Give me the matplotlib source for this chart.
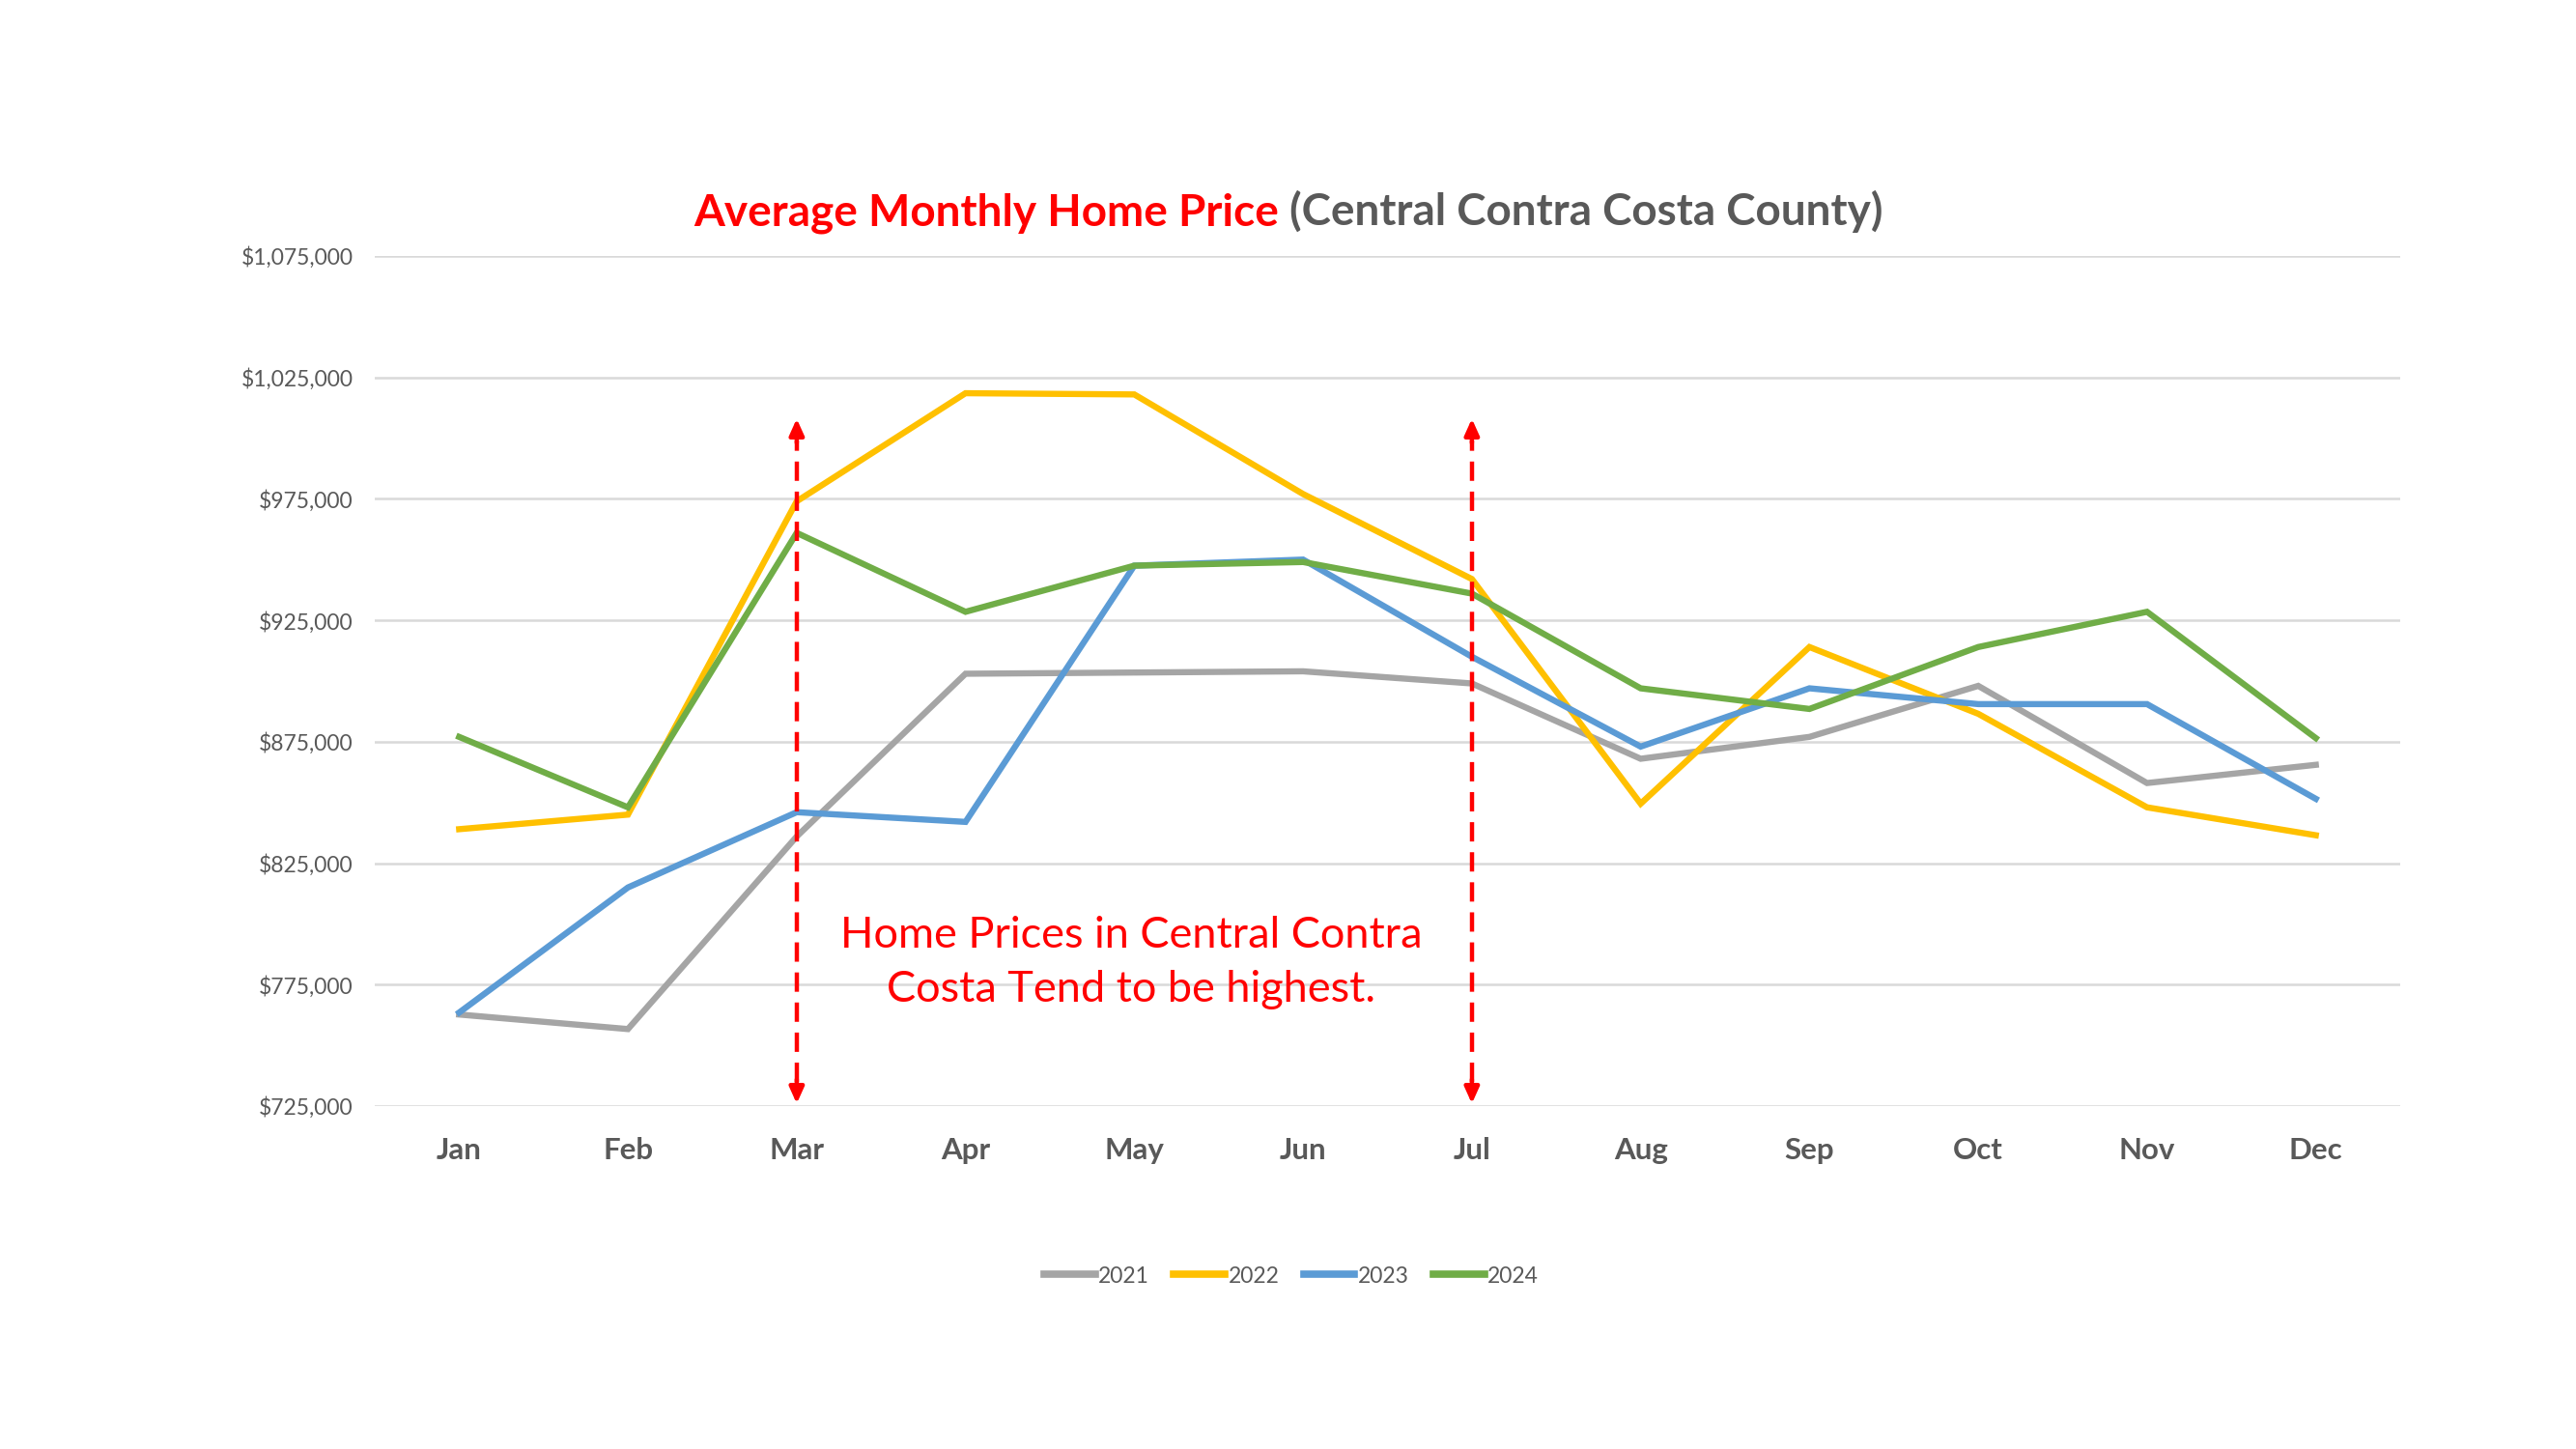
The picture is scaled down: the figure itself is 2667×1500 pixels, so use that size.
import matplotlib
matplotlib.use("Agg")
import matplotlib.pyplot as plt
from matplotlib.ticker import FuncFormatter, FixedLocator

months = ["Jan", "Feb", "Mar", "Apr", "May", "Jun", "Jul", "Aug", "Sep", "Oct", "Nov", "Dec"]
series_names = ["2021", "2022", "2023", "2024"]
prices_2021 = [762700, 756700, 836000, 903000, 903500, 904000, 899000, 868000, 877000, 898000, 858000, 865500]
prices_2022 = [839000, 845000, 974000, 1018500, 1018000, 977000, 942000, 849500, 914000, 886500, 848000, 836500]
prices_2023 = [763500, 815000, 846000, 842000, 947500, 950000, 910000, 873000, 897000, 890500, 890500, 851500]
prices_2024 = [877000, 848000, 961000, 928500, 947500, 949000, 936000, 897000, 888500, 914000, 928500, 876500]
colors = ["#A5A5A5", "#FFC000", "#5B9BD5", "#70AD47"]

y_min, y_max, y_step = 725000, 1075000, 50000
arrow_months = ["Mar", "Jul"]
arrow_low, arrow_high = 726000, 1008000
note_text = "Home Prices in Central Contra\nCosta Tend to be highest."
title_red = "Average Monthly Home Price"
title_gray = " (Central Contra Costa County)"

FONT = ["Lato", "DejaVu Sans"]
plt.rcParams["font.family"] = FONT
GRAY_TXT = "#595959"

W, H = 2667, 1500
fig = plt.figure(figsize=(W / 100, H / 100), dpi=100)
ax = fig.add_axes([388 / W, 1 - 1145 / H, (2485 - 388) / W, (1145 - 265) / H])

x = list(range(len(months)))
all_series = [prices_2021, prices_2022, prices_2023, prices_2024]
for name, vals, c in zip(series_names, all_series, colors):
    ax.plot(x, vals, color=c, lw=4.6, label=name, solid_joinstyle="miter", zorder=3)

ax.set_xlim(-0.5, len(months) - 0.5)
ax.set_ylim(y_min, y_max)
ax.yaxis.set_major_locator(FixedLocator(list(range(y_min, y_max + 1, y_step))))
ax.yaxis.set_major_formatter(FuncFormatter(lambda v, p: f"${v:,.0f}"))
ax.set_xticks(x)
ax.set_xticklabels(months, fontsize=22.5, fontweight="bold", color=GRAY_TXT)
ax.tick_params(axis="x", length=0, pad=23)
ax.tick_params(axis="y", length=0, pad=16, labelsize=16.5, labelcolor=GRAY_TXT)
ax.grid(axis="y", color="#D9D9D9", lw=1.8, zorder=0)
ax.set_axisbelow(True)
for s in ax.spines.values():
    s.set_visible(False)

# arrows
for m in arrow_months:
    xi = months.index(m)
    ax.vlines(xi, arrow_low + 9000, arrow_high - 9000, colors="#FF0000", lw=3.2,
              linestyles=(0, (4.5, 2.5)), zorder=4)
    for y_tip, y_tail in [(arrow_high, arrow_high - 10000), (arrow_low, arrow_low + 10000)]:
        ax.annotate("", xy=(xi, y_tip), xytext=(xi, y_tail),
                    arrowprops=dict(arrowstyle="-|>,head_length=1.0,head_width=0.45",
                                    color="#FF0000", lw=3.2, shrinkA=0, shrinkB=0),
                    zorder=5)

ax.text(3.98, 784000, note_text, color="#FF0000", fontsize=32.5, ha="center", va="center",
        linespacing=1.45, zorder=6)

leg = fig.legend(loc="center", bbox_to_anchor=(1337 / W, 1 - 1321 / H), ncol=4, frameon=False,
                 fontsize=16.5, handlelength=2.3, handletextpad=0.15, columnspacing=1.1)
for t in leg.get_texts():
    t.set_color(GRAY_TXT)
for h in leg.legend_handles:
    h.set_linewidth(5.5)

# title in two colours
t1 = fig.text(0, 1 - 233 / H, title_red, color="#FF0000", fontsize=33, fontweight="bold",
              ha="left", va="baseline")
t2 = fig.text(0, 1 - 233 / H, title_gray, color=GRAY_TXT, fontsize=33, fontweight="bold",
              ha="left", va="baseline")
fig.canvas.draw()
r = fig.canvas.get_renderer()
w1 = t1.get_window_extent(r).width
w2 = t2.get_window_extent(r).width
x0 = 1334 - (w1 + w2) / 2
t1.set_x(x0 / W)
t2.set_x((x0 + w1) / W)

fig.savefig("out.png", dpi=100, facecolor="white")
